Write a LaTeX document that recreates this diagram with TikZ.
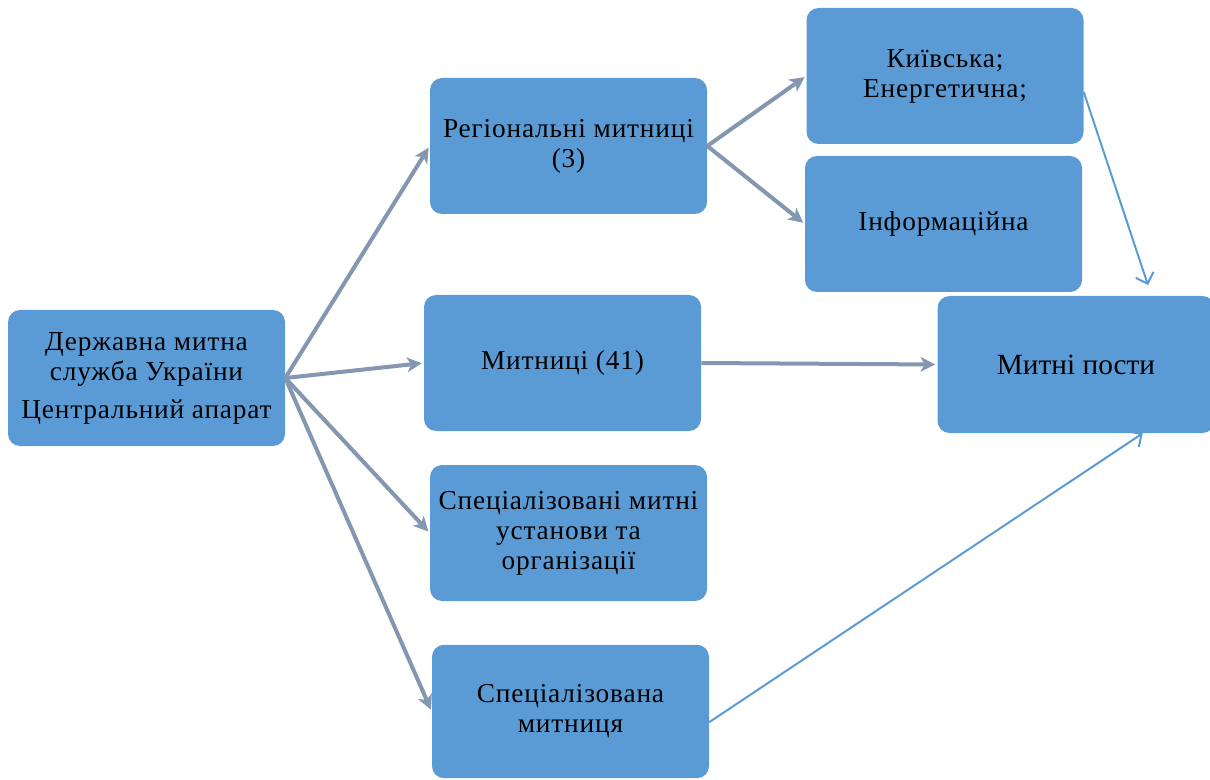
\documentclass[tikz,border=0pt]{standalone}
\usepackage{fontspec}
\setmainfont{Liberation Serif}
\newfontfamily\boxfont{Liberation Serif}[LetterSpace = 3]
\usetikzlibrary{arrows.meta}
\definecolor{boxblue}{HTML}{5B9BD5}
\definecolor{arrowgray}{HTML}{8497B0}

\begin{document}
\begin{tikzpicture}[x = .75pt, y = -.75pt,
	box/.style = {fill = boxblue, rounded corners = 9pt, minimum width = 207.75pt, minimum height = 102pt, align = center, inner sep = 0pt, font = \boxfont\fontsize{20.5}{22.5}\selectfont},
	grayarrow/.style = {line width = 3pt, draw = arrowgray, -{Stealth[length = 11pt, width = 11pt, inset = 3pt]}, shorten > = 1.5pt},
	bluearrow/.style = {line width = 1.5pt, draw = boxblue, -{Straight Barb[length = 7pt, width = 14pt]}}]
		\useasboundingbox (0,0) rectangle (1210,780);
		
		\node (DMS) at (146.5,378) [box] {Державна митна\\ служба України\\[6pt] Центральний апарат};
		
		\node (Reg) at (568.5,146) [box] {Регіональні митниці\\ (3)};
		\node (Myt) at (562.5,363) [box] {Митниці (41)};
		\node (SpecInst) at (568.5,533) [box] {Спеціалізовані митні\\ установи та\\ організації};
		\node (SpecMyt) at (570.5,711.5) [box, minimum height = 100pt] {Спеціалізована\\ митниця};
		
		\node (Kyiv) at (945,76) [box] {Київська;\\ Енергетична;};
		\node (Inform) at (943.5,224) [box] {Інформаційна};
		\node (Posts) at (1076,364.5) [box, minimum height = 102.75pt, font = \rmfamily\fontsize{22}{26}\selectfont] {Митні пости};
		
		\draw [grayarrow] (DMS.east) -- (Reg.west);
		\draw [grayarrow] (DMS.east) -- (Myt.west);
		\draw [grayarrow] (DMS.east) -- (SpecInst.west);
		\draw [grayarrow] (DMS.east) -- (SpecMyt.west);
		
		\draw [grayarrow] (Reg.east) -- (Kyiv.west);
		\draw [grayarrow] (Reg.east) -- (Inform.west);
		\draw [grayarrow] (Myt.east) -- (Posts.west);
		
		\draw [bluearrow] ([yshift = -12pt]Kyiv.east) -- ([xshift = 54pt, yshift = 8pt]Posts.north);
		\draw [bluearrow] ([yshift = -8pt]SpecMyt.east) -- ([xshift = 50pt]Posts.south);
\end{tikzpicture}
\end{document}
